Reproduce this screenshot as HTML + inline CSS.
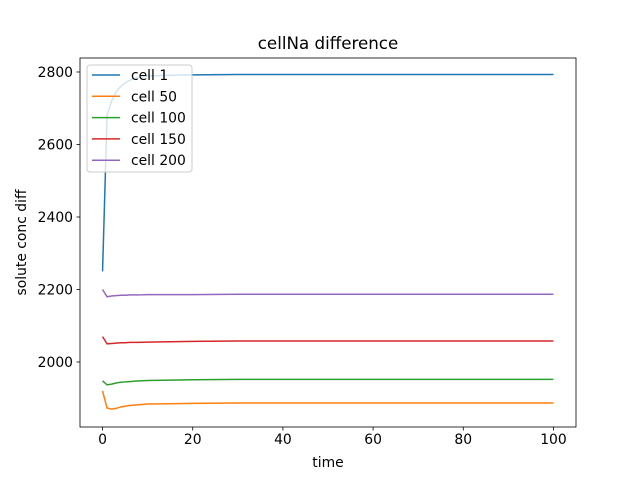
<!DOCTYPE html>
<html><head><meta charset="utf-8"><style>
body{margin:0;background:#fff}
svg{display:block;font-family:"DejaVu Sans","Liberation Sans",sans-serif}
</style></head><body>
<svg id="chart" width="640" height="480"></svg>
<script>
const times=[0,1,2,3,4,5,6,8,10,15,20,30,50,100];
const cell1=[2250,2680,2720,2745,2760,2770,2777,2785,2789,2791,2792,2793,2793,2793];
const cell50=[1920,1873,1870,1872,1876,1878,1880,1882,1884,1885,1886,1887,1887,1887];
const cell100=[1948,1937,1939,1942,1944,1945,1946,1948,1949,1950,1951,1952,1952,1952];
const cell150=[2070,2050,2051,2052,2053,2053,2054,2054,2055,2056,2057,2058,2058,2058];
const cell200=[2200,2180,2182,2183,2184,2184,2185,2185,2186,2186,2186,2187,2187,2187];
const seriesNames=["cell 1","cell 50","cell 100","cell 150","cell 200"];
const colors=["#1f77b4","#ff7f0e","#2ca02c","#d62728","#9467bd"];
const xTicks=[0,20,40,60,80,100];
const yTicks=[2000,2200,2400,2600,2800];
const L=80,R=576,T=58,B=427,x0=-5,x1=105,y0=1820.7,y1=2838.6;
const sx=v=>L+(v-x0)/(x1-x0)*(R-L);
const sy=v=>B-(v-y0)/(y1-y0)*(B-T);
const svg=document.getElementById('chart');
const NS='http://www.w3.org/2000/svg';
function mk(t,a,p){const e=document.createElementNS(NS,t);for(const k in a)e.setAttribute(k,a[k]);(p||svg).appendChild(e);return e;}
const all=[cell1,cell50,cell100,cell150,cell200];
all.forEach((s,i)=>{
 const p=mk('polyline',{points:s.map((v,j)=>sx(times[j])+','+sy(v)).join(' '),fill:'none',stroke:colors[i],'stroke-width':1.5});
 
 
});
const frame=mk('rect',{x:L,y:T,width:R-L,height:B-T,fill:'none',stroke:'#000','stroke-width':0.8});


xTicks.forEach(v=>{
 mk('line',{x1:sx(v),x2:sx(v),y1:B,y2:B+3.5,stroke:'#000','stroke-width':0.8});
 const t=mk('text',{x:sx(v),y:B+17,'text-anchor':'middle','font-size':10*1.39/1.39+'px'});
 t.setAttribute('font-size','13.9');t.textContent=v;
 
 
});
yTicks.forEach(v=>{
 mk('line',{x1:L-3.5,x2:L,y1:sy(v),y2:sy(v),stroke:'#000','stroke-width':0.8});
 const t=mk('text',{x:L-7,y:sy(v)+5,'text-anchor':'end','font-size':'13.9'});
 t.textContent=v;
 
 
});
const ti=mk('text',{x:(L+R)/2,y:49,'text-anchor':'middle','font-size':'16.7'});ti.textContent='cellNa difference';


const xl=mk('text',{x:(L+R)/2,y:467,'text-anchor':'middle','font-size':'13.9'});xl.textContent='time';


const yl=mk('text',{x:0,y:0,'text-anchor':'middle','font-size':'13.9',transform:'translate(26,'+((T+B)/2)+') rotate(-90)'});yl.textContent='solute conc diff';


const lg=mk('g',{});


mk('rect',{x:87,y:65,width:105,height:107,rx:3,fill:'#fff','fill-opacity':0.8,stroke:'#ccc','stroke-width':1},lg);
seriesNames.forEach((n,i)=>{
 const y=75+i*21.3;
 mk('line',{x1:92,x2:120,y1:y,y2:y,stroke:colors[i],'stroke-width':1.5},lg);
 const t=mk('text',{x:131,y:y+5,'font-size':'13.9'},lg);t.textContent=n;
 
 
});
</script>
</body></html>
